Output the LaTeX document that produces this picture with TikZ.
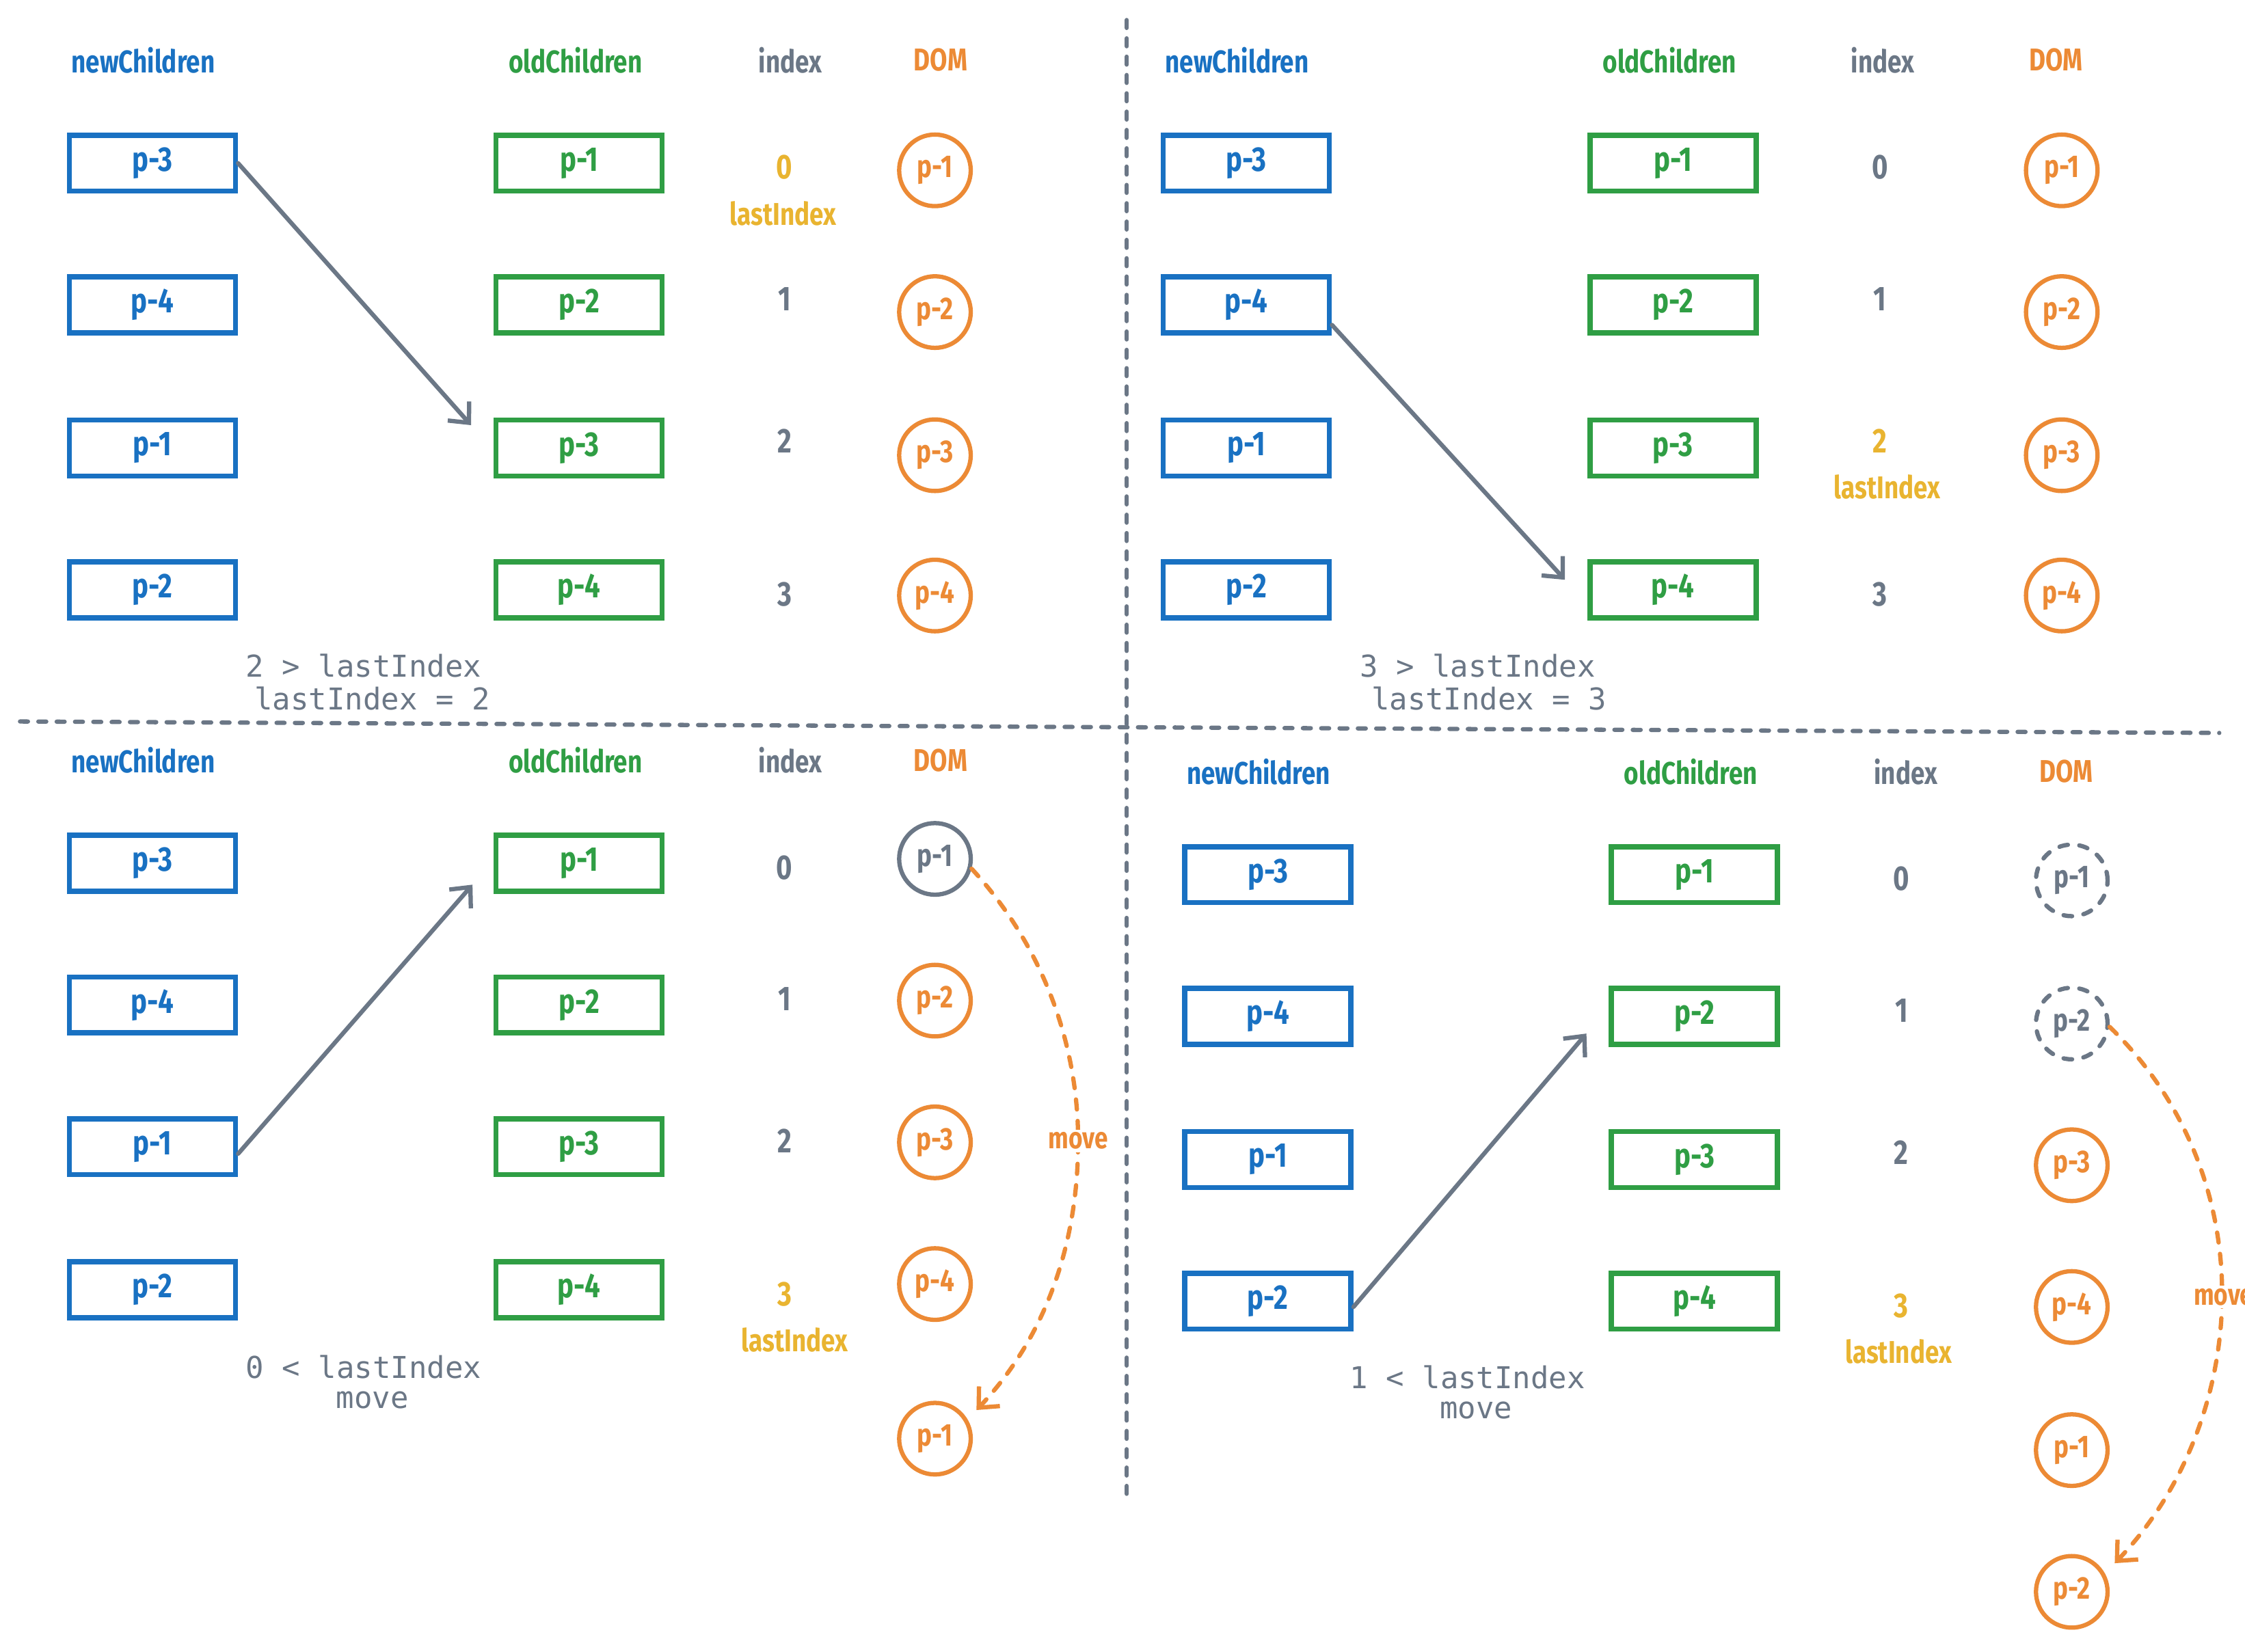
\documentclass[tikz,border=0pt]{standalone}
\usepackage{fontspec}
\setmainfont{Fira Sans}
\newfontfamily\hand[FakeStretch=0.8]{Fira Sans}
\setmonofont{DejaVu Sans Mono}
\usetikzlibrary{arrows.meta}
\definecolor{cblue}{HTML}{1971C2}
\definecolor{cgreen}{HTML}{2F9E44}
\definecolor{corange}{HTML}{EC8A35}
\definecolor{cyellow}{HTML}{E9B430}
\definecolor{cgray}{HTML}{6B7786}
\begin{document}
\begin{tikzpicture}[x=1pt,y=-1pt,
  hfont/.style={font=\hand\bfseries\fontsize{22}{24}\selectfont},
  bfont/.style={font=\hand\bfseries\fontsize{24}{26}\selectfont},
  hdrb/.style={hfont,text=cblue},
  hdrg/.style={hfont,text=cgreen},
  hdri/.style={hfont,text=cgray},
  hdro/.style={hfont,text=corange},
  nbox/.style={draw=cblue,line width=3.6pt,minimum width=116pt,minimum height=39pt,inner sep=0pt,text=cblue,bfont},
  obox/.style={draw=cgreen,line width=3.6pt,minimum width=116pt,minimum height=39pt,inner sep=0pt,text=cgreen,bfont},
  dom/.style={circle,draw=corange,line width=3pt,minimum size=50pt,inner sep=0pt,text=corange,font=\hand\bfseries\fontsize{22}{24}\selectfont},
  domg/.style={dom,draw=cgray,text=cgray},
  domd/.style={domg,dash pattern=on 6pt off 8pt,line cap=round},
  idx/.style={font=\hand\bfseries\fontsize{24}{26}\selectfont,text=cgray},
  yel/.style={idx,text=cyellow},
  lidx/.style={font=\hand\bfseries\fontsize{22}{24}\selectfont,text=cyellow},
  code/.style={font=\ttfamily\fontsize{21}{23}\selectfont,text=cgray,inner sep=0pt},
  arr/.style={draw=cgray,line width=3pt,line cap=round,-{Straight Barb[length=11pt,width=20pt,line width=3pt]}},
  mv/.style={draw=corange,line width=3pt,line cap=round,dash pattern=on 7pt off 8pt,-{Straight Barb[length=11pt,width=20pt,line width=3pt]}},
  mvlbl/.style={fill=white,inner sep=2pt,text=corange,font=\hand\bfseries\fontsize{21}{23}\selectfont},
  divider/.style={draw=cgray,line width=3pt,line cap=round,dash pattern=on 5.5pt off 7.3pt}]
\useasboundingbox (0,0) rectangle (1568,1153.6);
\fill[white] (0,0) rectangle (1568,1153.6);

% dividers
\coordinate (vt) at (787,14);
\coordinate (vb) at (787,1047);
\coordinate (hl) at (14,504);
\coordinate (hr) at (1550,512);
\draw[divider] (vt) -- (vb);
\draw[divider] (hl) -- (hr);

% ===== Quadrant 1 =====
\node[hdrb] (q1hn) at (100,42) {newChildren};
\node[hdrg] (q1ho) at (402,42) {oldChildren};
\node[hdri] (q1hi) at (552,42) {index};
\node[hdro] (q1hd) at (657,42) {DOM};
\node[nbox] (q1b1) at (106.5,114) {p-3};
\node[nbox] (q1b2) at (106.5,213) {p-4};
\node[nbox] (q1b3) at (106.5,313) {p-1};
\node[nbox] (q1b4) at (106.5,412) {p-2};
\node[obox] (q1g1) at (404.5,114) {p-1};
\node[obox] (q1g2) at (404.5,213) {p-2};
\node[obox] (q1g3) at (404.5,313) {p-3};
\node[obox] (q1g4) at (404.5,412) {p-4};
\node[yel] (q1i0) at (548,117) {0};
\node[lidx] (q1li) at (547,149) {lastIndex};
\node[idx] (q1i1) at (548,209) {1};
\node[idx] (q1i2) at (548,308) {2};
\node[idx] (q1i3) at (548,415) {3};
\node[dom] (q1d1) at (653,119) {p-1};
\node[dom] (q1d2) at (653,218) {p-2};
\node[dom] (q1d3) at (653,318) {p-3};
\node[dom] (q1d4) at (653,416) {p-4};
\node[code] (q1c1) at (254,465) {2 > lastIndex};
\node[code] (q1c2) at (260,488) {lastIndex = 2};
\coordinate (q1tip) at (329,297);
\draw[arr] (q1b1.east) -- (q1tip);

% ===== Quadrant 2 =====
\node[hdrb] (q2hn) at (864,42) {newChildren};
\node[hdrg] (q2ho) at (1166,42) {oldChildren};
\node[hdri] (q2hi) at (1315,42) {index};
\node[hdro] (q2hd) at (1436,42) {DOM};
\node[nbox] (q2b1) at (870.5,114) {p-3};
\node[nbox] (q2b2) at (870.5,213) {p-4};
\node[nbox] (q2b3) at (870.5,313) {p-1};
\node[nbox] (q2b4) at (870.5,412) {p-2};
\node[obox] (q2g1) at (1168.5,114) {p-1};
\node[obox] (q2g2) at (1168.5,213) {p-2};
\node[obox] (q2g3) at (1168.5,313) {p-3};
\node[obox] (q2g4) at (1168.5,412) {p-4};
\node[idx] (q2i0) at (1313,117) {0};
\node[idx] (q2i1) at (1313,209) {1};
\node[yel] (q2i2) at (1313,308) {2};
\node[lidx] (q2li) at (1318,340) {lastIndex};
\node[idx] (q2i3) at (1313,415) {3};
\node[dom] (q2d1) at (1440,119) {p-1};
\node[dom] (q2d2) at (1440,218) {p-2};
\node[dom] (q2d3) at (1440,318) {p-3};
\node[dom] (q2d4) at (1440,416) {p-4};
\node[code] (q2c1) at (1032,465) {3 > lastIndex};
\node[code] (q2c2) at (1040,488) {lastIndex = 3};
\coordinate (q2tip) at (1093,405);
\draw[arr] ([yshift=-14pt]q2b2.east) -- (q2tip);

% ===== Quadrant 3 =====
\node[hdrb] (q3hn) at (100,531) {newChildren};
\node[hdrg] (q3ho) at (402,531) {oldChildren};
\node[hdri] (q3hi) at (552,531) {index};
\node[hdro] (q3hd) at (657,531) {DOM};
\node[nbox] (q3b1) at (106.5,603) {p-3};
\node[nbox] (q3b2) at (106.5,702) {p-4};
\node[nbox] (q3b3) at (106.5,801) {p-1};
\node[nbox] (q3b4) at (106.5,901) {p-2};
\node[obox] (q3g1) at (404.5,603) {p-1};
\node[obox] (q3g2) at (404.5,702) {p-2};
\node[obox] (q3g3) at (404.5,801) {p-3};
\node[obox] (q3g4) at (404.5,901) {p-4};
\node[idx] (q3i0) at (548,606) {0};
\node[idx] (q3i1) at (548,698) {1};
\node[idx] (q3i2) at (548,797) {2};
\node[yel] (q3i3) at (548,904) {3};
\node[lidx] (q3li) at (555,936) {lastIndex};
\node[domg] (q3d1) at (653,600) {p-1};
\node[dom] (q3d2) at (653,699) {p-2};
\node[dom] (q3d3) at (653,798) {p-3};
\node[dom] (q3d4) at (653,897) {p-4};
\node[dom] (q3d5) at (653,1005) {p-1};
\node[code] (q3c1) at (254,955) {0 < lastIndex};
\node[code] (q3c2) at (260,978) {move};
\coordinate (q3tip) at (330,618);
\draw[arr] ([yshift=-5pt]q3b3.east) -- (q3tip);
\coordinate (q3mid) at (753,797);
\coordinate (q3end) at (682,985);
\draw[mv] (q3d1.-15) .. controls (726,658) and (753,726) .. (q3mid)
  .. controls (753,868) and (731,933) .. (q3end);
\node[mvlbl] (q3mv) at (q3mid) {move};

% ===== Quadrant 4 =====
\node[hdrb] (q4hn) at (879,539) {newChildren};
\node[hdrg] (q4ho) at (1181,539) {oldChildren};
\node[hdri] (q4hi) at (1331,539) {index};
\node[hdro] (q4hd) at (1443,539) {DOM};
\node[nbox] (q4b1) at (885.5,611) {p-3};
\node[nbox] (q4b2) at (885.5,710) {p-4};
\node[nbox] (q4b3) at (885.5,810) {p-1};
\node[nbox] (q4b4) at (885.5,909) {p-2};
\node[obox] (q4g1) at (1183.5,611) {p-1};
\node[obox] (q4g2) at (1183.5,710) {p-2};
\node[obox] (q4g3) at (1183.5,810) {p-3};
\node[obox] (q4g4) at (1183.5,909) {p-4};
\node[idx] (q4i0) at (1328,614) {0};
\node[idx] (q4i1) at (1328,706) {1};
\node[idx] (q4i2) at (1328,805) {2};
\node[yel] (q4i3) at (1328,912) {3};
\node[lidx] (q4li) at (1326,944) {lastIndex};
\node[domd] (q4d1) at (1447,615) {p-1};
\node[domd] (q4d2) at (1447,715) {p-2};
\node[dom] (q4d3) at (1447,814) {p-3};
\node[dom] (q4d4) at (1447,913) {p-4};
\node[dom] (q4d5) at (1447,1013) {p-1};
\node[dom] (q4d6) at (1447,1112) {p-2};
\node[code] (q4c1) at (1025,962) {1 < lastIndex};
\node[code] (q4c2) at (1031,985) {move};
\coordinate (q4tip) at (1108,722);
\draw[arr] ([yshift=-4pt]q4b4.east) -- (q4tip);
\coordinate (q4mid) at (1552,904);
\coordinate (q4end) at (1477,1092);
\draw[mv] (q4d2.-5) .. controls (1525,767) and (1552,834.5) .. (q4mid)
  .. controls (1552,973.5) and (1525,1042) .. (q4end);
\node[mvlbl,anchor=west] (q4mv) at (1530,906) {move};
\end{tikzpicture}
\end{document}
